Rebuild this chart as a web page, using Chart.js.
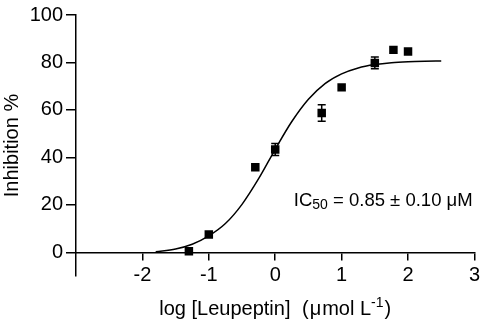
<!DOCTYPE html>
<html><head><meta charset="utf-8">
<script src="https://cdn.jsdelivr.net/npm/chart.js@4.4.0/dist/chart.umd.min.js"></script>
<style>html,body{margin:0;padding:0;background:#fff}#wrap{width:484px;height:324px}</style>
</head><body><div id="wrap"><canvas id="c" width="484" height="324"></canvas></div>
<script>
const logConc = [-1.3, -1, -0.3, 0, 0.7, 1, 1.5, 1.78, 2];
const inhibition = [0.4, 7.5, 35.8, 43.3, 58.7, 69.5, 79.8, 85.3, 84.6];
const errors = [0, 0, 0, 2.5, 3.5, 0, 2.5, 0, 0];
const fitX = [-1.8, -1.5, -1.25, -1, -0.75, -0.5, -0.25, 0, 0.25, 0.5, 0.75, 1, 1.25, 1.5, 1.75, 2, 2.25, 2.5];
const fitY = [0.2, 1.4, 3.4, 6.9, 12.1, 20.2, 31.0, 43.4, 55.1, 64.5, 71.1, 75.2, 77.7, 79.1, 79.9, 80.3, 80.5, 80.6];
const xTicks = [-2, -1, 0, 1, 2, 3];
const yTicks = [0, 20, 40, 60, 80, 100];
const xTitleParts = ['log [Leupeptin] ', '(', '\u03BC', 'mol L', '-1', ')'];
const ic50Parts = ['IC', '50', ' = 0.85 \u00B1 0.10 \u03BCM'];
const FONT = 'Liberation Sans, Arial, sans-serif';

const errorBars = {
  id: 'errorBars',
  afterDatasetsDraw(chart) {
    const ctx = chart.ctx, xs = chart.scales.x, ys = chart.scales.y;
    ctx.save();
    ctx.strokeStyle = '#000';
    ctx.lineWidth = 1.5;
    logConc.forEach((x, i) => {
      const e = errors[i];
      if (!e) return;
      const px = xs.getPixelForValue(x);
      const top = ys.getPixelForValue(inhibition[i] + e);
      const bot = ys.getPixelForValue(inhibition[i] - e);
      ctx.beginPath();
      ctx.moveTo(px, top); ctx.lineTo(px, bot);
      ctx.moveTo(px - 4, top); ctx.lineTo(px + 4, top);
      ctx.moveTo(px - 4, bot); ctx.lineTo(px + 4, bot);
      ctx.stroke();
    });
    ctx.restore();
  }
};

const textLabels = {
  id: 'textLabels',
  afterDraw(chart) {
    const ctx = chart.ctx, xs = chart.scales.x, ys = chart.scales.y;
    const area = chart.chartArea;
    ctx.save();
    ctx.fillStyle = '#000';
    ctx.textBaseline = 'alphabetic';
    ctx.textAlign = 'left';

    // IC50 annotation
    let x = xs.getPixelForValue(0.28);
    let y = ys.getPixelForValue(19.3);
    ctx.font = '18.5px ' + FONT;
    ctx.fillText(ic50Parts[0], x, y);
    x += ctx.measureText(ic50Parts[0]).width;
    ctx.font = '14px ' + FONT;
    ctx.fillText(ic50Parts[1], x, y + 3);
    x += ctx.measureText(ic50Parts[1]).width;
    ctx.font = '18.5px ' + FONT;
    ctx.fillText(ic50Parts[2], x, y);

    // x axis title with superscript
    const base = ys.getPixelForValue(0) + 63;
    const gaps = [6, 1, 1, 0, 1, 0];
    const fonts = ['20px ', '20px ', '20px ', '20px ', '14px ', '20px '];
    let total = 0;
    xTitleParts.forEach((t, i) => {
      ctx.font = fonts[i] + FONT;
      total += ctx.measureText(t).width + gaps[i];
    });
    let cx = (area.left + area.right) / 2 - total / 2;
    xTitleParts.forEach((t, i) => {
      ctx.font = fonts[i] + FONT;
      ctx.fillText(t, cx, i === 4 ? base - 8 : base);
      cx += ctx.measureText(t).width + gaps[i];
    });
    ctx.restore();
  }
};

new Chart(document.getElementById('c'), {
  type: 'scatter',
  data: {
    datasets: [
      {
        type: 'line',
        data: fitX.map((x, i) => ({ x, y: fitY[i] })),
        borderColor: '#000',
        borderWidth: 1.5,
        pointRadius: 0,
        fill: false,
        cubicInterpolationMode: 'monotone',
        showLine: true
      },
      {
        data: logConc.map((x, i) => ({ x, y: inhibition[i] })),
        pointStyle: 'rect',
        pointRadius: 6,
        pointBackgroundColor: '#000',
        pointBorderColor: '#000',
        pointBorderWidth: 0
      }
    ]
  },
  options: {
    responsive: false,
    animation: false,
    devicePixelRatio: 1,
    layout: { padding: { left: 0, top: 7, right: 8, bottom: 48 } },
    plugins: { legend: { display: false }, tooltip: { enabled: false } },
    scales: {
      x: {
        type: 'linear', min: -3, max: 3,
        position: { y: 0 },
        afterBuildTicks: s => { s.ticks = xTicks.map(v => ({ value: v })); },
        grid: { drawOnChartArea: false, drawTicks: true, tickLength: 7, color: '#000', lineWidth: 1.5 },
        border: { color: '#000', width: 1.5 },
        ticks: { color: '#000', font: { family: FONT, size: 20 }, padding: 4, maxRotation: 0, autoSkip: false },
        title: { display: false }
      },
      y: {
        type: 'linear', min: -10, max: 100,
        afterBuildTicks: s => { s.ticks = yTicks.map(v => ({ value: v })); },
        afterFit: s => { s.width = 76; },
        grid: { drawOnChartArea: false, drawTicks: true, tickLength: 10, color: '#000', lineWidth: 1.5 },
        border: { color: '#000', width: 1.5 },
        ticks: { color: '#000', font: { family: FONT, size: 20 }, padding: 3 },
        title: { display: true, text: 'Inhibition %', color: '#000', font: { family: FONT, size: 20 }, padding: { top: 0, bottom: 0 } }
      }
    }
  },
  plugins: [errorBars, textLabels]
});
</script>
</body></html>
